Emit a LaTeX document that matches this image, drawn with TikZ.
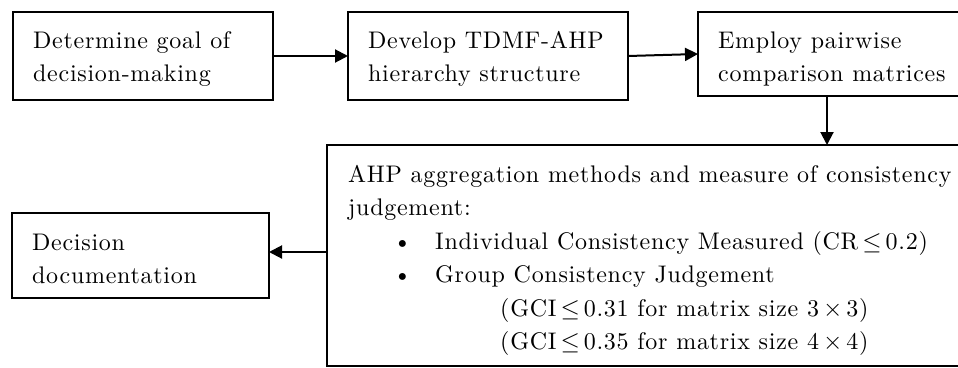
\documentclass[tikz,border=0pt]{standalone}
\usepackage{fontspec}
\newfontfamily\lmspaced{lmroman10-regular.otf}[LetterSpace=3.0]
\usetikzlibrary{arrows.meta}
\begin{document}
\begin{tikzpicture}[x=1pt,y=-1pt,
  box/.style={draw,line width=2pt,rectangle,inner sep=0pt,outer sep=0pt},
  txt/.style={align=left,anchor=north west,inner sep=0pt,
    font=\lmspaced\fontsize{24}{33.5}\selectfont},
  arr/.style={line width=2pt,-{Triangle[length=13pt,width=13pt]}}]
\useasboundingbox (0,0) rectangle (958,367);
% boxes
\node[box,minimum width=260,minimum height=88] (b1) at (143,56) {};
\node[box,minimum width=280,minimum height=88] (b2) at (488,56) {};
\node[box,minimum width=272,minimum height=84] (b3) at (834,54) {};
\node[box,minimum width=643,minimum height=221] (b4) at (648.5,255.5) {};
\node[box,minimum width=257,minimum height=85] (b5) at (140.5,255.5) {};
% texts
\newcommand{\fs}{\rule{0pt}{17pt}}
\node[txt] (t1) at (33,31) {\fs Determine goal of\\decision-making};
\node[txt] (t2) at (368,31) {\fs Develop TDMF-AHP\\hierarchy structure};
\node[txt] (t3) at (718,31) {\fs Employ pairwise\\comparison matrices};
\node[txt] (t5) at (32,233) {\fs Decision\\documentation};
\node[txt] (t4) at (348,165) {\fs AHP aggregation methods and measure of consistency\\
judgement:\\
\hspace*{45pt}\makebox[42pt][l]{\textbullet}Individual Consistency Measured (CR\,$\leq$\,0.2)\\
\hspace*{45pt}\makebox[42pt][l]{\textbullet}Group Consistency Judgement\\
\hspace*{152pt}(GCI\,$\leq$\,0.31 for matrix size 3\,$\times$\,3)\\
\hspace*{152pt}(GCI\,$\leq$\,0.35 for matrix size 4\,$\times$\,4)};
% connectors
\draw[arr] (b1.east) -- (b2.west);
\draw[arr] (b2.east) -- (b3.west);
\draw[arr] ([xshift=-7pt]b3.south) -- ([xshift=-7pt]b3.south |- b4.north);
\draw[arr] ([yshift=3.5pt]b4.west) -- ([yshift=3.5pt]b4.west -| b5.east);
\end{tikzpicture}
\end{document}
